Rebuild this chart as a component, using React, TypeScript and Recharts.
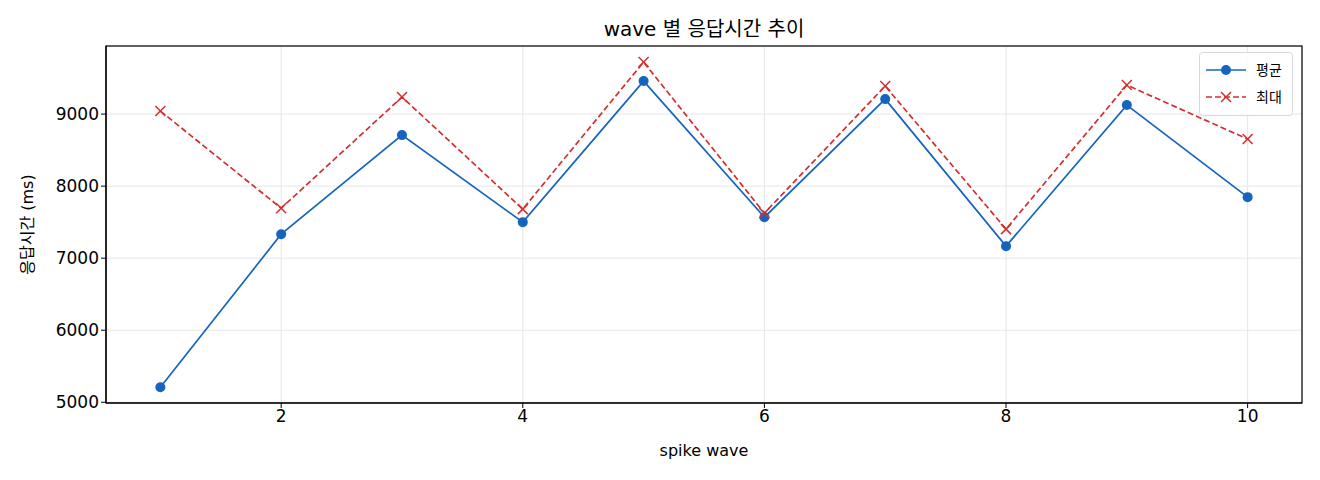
import { useEffect } from 'react';
import {
  LineChart, Line, XAxis, YAxis, CartesianGrid,
} from 'recharts';

const waves = [1, 2, 3, 4, 5, 6, 7, 8, 9, 10];
const avgMs = [5208, 7333, 8708, 7500, 9458, 7569, 9208, 7167, 9125, 7847];
const maxMs = [9042, 7694, 9236, 7681, 9722, 7625, 9389, 7403, 9403, 8653];
const xTicks = [2, 4, 6, 8, 10];
const yTicks = [5000, 6000, 7000, 8000, 9000];

const BLUE = '#1565c0';
const RED = '#d32f2f';
const FONT = '"DejaVu Sans", "Noto Sans CJK KR", sans-serif';

const data = waves.map((w, i) => ({ wave: w, avg: avgMs[i], max: maxMs[i] }));

// plot area (matplotlib axes box)
const PLOT = { left: 106, top: 46, right: 1302, bottom: 403 };

// x 마커
const CrossDot = (props: any) => {
  const { cx, cy } = props;
  if (cx == null || cy == null) return null;
  const s = 5;
  return (
    <g stroke={RED} strokeWidth={1.5}>
      <line x1={cx - s} y1={cy - s} x2={cx + s} y2={cy + s} />
      <line x1={cx - s} y1={cy + s} x2={cx + s} y2={cy - s} />
    </g>
  );
};

const LegendBox = () => (
  <svg width={94} height={64} style={{ position: 'absolute', left: 1199, top: 52 }}>
    <rect x={0.5} y={0.5} width={93} height={63} rx={3} fill="rgba(255,255,255,0.8)" stroke="#d8d8d8" />
    <line x1={7} y1={18} x2={47} y2={18} stroke={BLUE} strokeWidth={1.7} />
    <circle cx={27} cy={18} r={5} fill={BLUE} />
    <line x1={7} y1={45} x2={47} y2={45} stroke={RED} strokeWidth={1.7} strokeDasharray="6 3" />
    <line x1={22} y1={40} x2={32} y2={50} stroke={RED} strokeWidth={1.5} />
    <line x1={22} y1={50} x2={32} y2={40} stroke={RED} strokeWidth={1.5} />
    <text x={57} y={23} fontFamily={FONT} fontSize={14} fill="#000">평균</text>
    <text x={57} y={50} fontFamily={FONT} fontSize={14} fill="#000">최대</text>
  </svg>
);

export default function App() {
  useEffect(() => {
    document.body.style.margin = '0';
  }, []);

  const tick = { fontSize: 17, fill: '#000', fontFamily: FONT };

  return (
    <div style={{ position: 'relative', width: 1320, height: 480, background: '#fff', fontFamily: FONT }}>
      <div style={{
        position: 'absolute', left: PLOT.left, width: PLOT.right - PLOT.left, top: 16, textAlign: 'center',
        fontSize: 20, color: '#000', lineHeight: '26px',
      }}>
        wave 별 응답시간 추이
      </div>
      <LineChart
        width={1320}
        height={480}
        data={data}
        margin={{ top: PLOT.top, right: 1320 - PLOT.right, bottom: 0, left: 0 }}
      >
        <CartesianGrid stroke="#e6e6e6" strokeWidth={1} />
        <XAxis
          dataKey="wave"
          type="number"
          domain={[0.55, 10.45]}
          ticks={xTicks}
          allowDataOverflow
          tick={tick}
          tickLine={{ stroke: '#000' }}
          tickSize={5}
          axisLine={{ stroke: '#000', strokeWidth: 1.2 }}
          height={480 - PLOT.bottom}
          label={{ value: 'spike wave', position: 'insideTop', offset: 42, fontSize: 16, fill: '#000', fontFamily: FONT }}
        />
        <YAxis
          type="number"
          domain={[4990, 9945]}
          ticks={yTicks}
          allowDataOverflow
          tick={tick}
          tickLine={{ stroke: '#000' }}
          tickSize={5}
          axisLine={{ stroke: '#000', strokeWidth: 1.2 }}
          width={PLOT.left}
          label={{ value: '응답시간 (ms)', angle: -90, position: 'insideLeft', offset: 27, fontSize: 16, fill: '#000', fontFamily: FONT, style: { textAnchor: 'middle' } }}
        />
        <Line
          dataKey="avg"
          stroke={BLUE}
          strokeWidth={1.7}
          dot={{ r: 5, fill: BLUE, stroke: BLUE, strokeWidth: 0 }}
          activeDot={false}
          isAnimationActive={false}
        />
        <Line
          dataKey="max"
          stroke={RED}
          strokeWidth={1.7}
          strokeDasharray="6 3"
          dot={<CrossDot />}
          activeDot={false}
          isAnimationActive={false}
        />
      </LineChart>
      {/* axes frame */}
      <svg width={1320} height={480} style={{ position: 'absolute', left: 0, top: 0, pointerEvents: 'none' }}>
        <rect
          x={PLOT.left}
          y={PLOT.top}
          width={PLOT.right - PLOT.left}
          height={PLOT.bottom - PLOT.top}
          fill="none"
          stroke="#000"
          strokeWidth={1.2}
        />
      </svg>
      <LegendBox />
    </div>
  );
}
